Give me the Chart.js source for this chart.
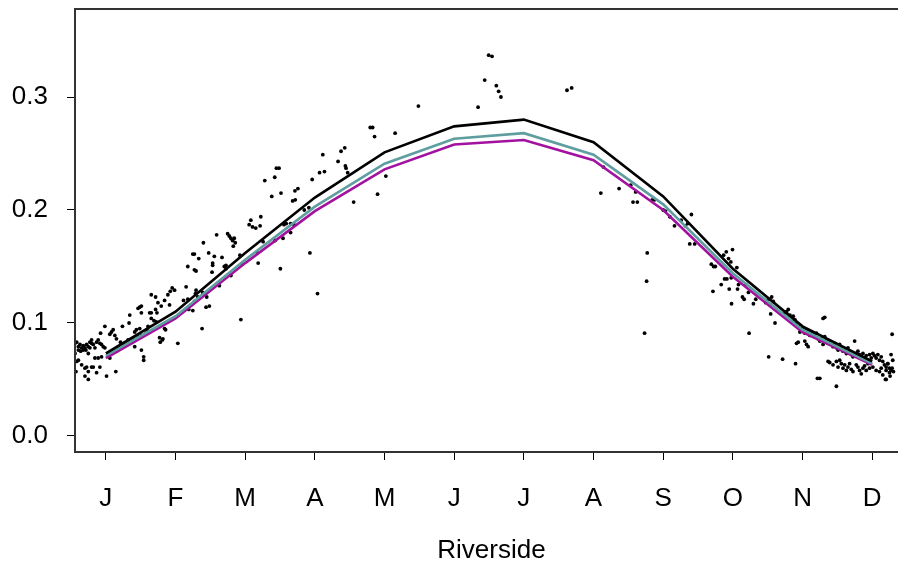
<!DOCTYPE html>
<html><head><meta charset="utf-8">
<script src="https://cdn.jsdelivr.net/npm/chart.js@4/dist/chart.umd.min.js"></script>
<style>html,body{margin:0;padding:0;overflow:hidden;background:#fff}</style>
</head><body>
<canvas id="c" width="912" height="566" style="width:912px;height:566px;display:block"></canvas>
<script>
const monthLabels = ['J','F','M','A','M','J','J','A','S','O','N','D'];
const monthPositions = [0,1,2,3,4,5,6,7,8,9,10,11];
const yTickValues = [0.0, 0.1, 0.2, 0.3];
const xTitle = 'Riverside';

const fitBlack   = [0.073, 0.110, 0.162, 0.211, 0.251, 0.274, 0.280, 0.260, 0.212, 0.148, 0.097, 0.066];
const fitTeal    = [0.071, 0.106, 0.156, 0.203, 0.241, 0.263, 0.268, 0.249, 0.205, 0.144, 0.094, 0.064];
const fitMagenta = [0.069, 0.104, 0.153, 0.199, 0.236, 0.258, 0.262, 0.244, 0.200, 0.141, 0.092, 0.063];

// observed points: [month position, value]
const observations = [
[1.248,0.161],[1.271,0.161],[1.333,0.157],[1.176,0.150],[1.271,0.147],[1.295,0.146],[1.938,0.103],[1.438,0.114],[1.486,0.115],[1.381,0.095],[1.033,0.082],
[0.652,0.125],[0.714,0.123],[0.748,0.118],[0.843,0.120],[0.890,0.125],[0.924,0.128],[0.952,0.131],[0.986,0.129],[0.914,0.116],[0.795,0.115],[1.152,0.132],[1.176,0.121],[1.271,0.119],[1.295,0.129],[1.286,0.126],[1.319,0.123],[1.343,0.122],[1.190,0.112],[1.248,0.111],[1.114,0.120],
[0.486,0.114],[0.510,0.115],[0.462,0.113],[0.510,0.109],[0.629,0.109],[0.652,0.109],[0.714,0.112],[0.733,0.109],[0.652,0.104],[0.690,0.102],[0.724,0.101],[0.605,0.097],[0.590,0.094],[0.629,0.092],[0.571,0.091],[0.486,0.095],[0.438,0.094],[0.414,0.092],[0.343,0.107],[0.333,0.100],[0.238,0.097],[0.105,0.094],[0.081,0.092],[0.129,0.089],[0.057,0.090],[-0.014,0.097],[-0.076,0.091],
[0.152,0.086],[0.210,0.083],[0.248,0.081],[0.176,0.079],[0.286,0.082],[0.319,0.085],[0.343,0.083],[0.367,0.086],[0.400,0.087],[0.462,0.088],[0.510,0.089],[0.414,0.079],[0.510,0.076],[0.543,0.070],[0.543,0.067],[0.771,0.087],[0.810,0.085],[0.819,0.086],[0.857,0.094],[0.890,0.101],[0.843,0.095],[0.781,0.083],
[-0.443,0.082],[-0.419,0.083],[-0.395,0.079],[-0.371,0.081],[-0.348,0.078],[-0.324,0.080],[-0.300,0.078],[-0.276,0.081],[-0.252,0.079],[-0.229,0.083],[-0.205,0.082],[-0.181,0.081],[-0.157,0.078],[-0.133,0.083],[-0.110,0.085],[-0.086,0.082],[-0.062,0.081],[-0.038,0.079],[-0.014,0.078],
[-0.395,0.076],[-0.362,0.075],[-0.324,0.076],[-0.286,0.076],[-0.252,0.073],[-0.443,0.073],[-0.419,0.066],[-0.395,0.067],[-0.348,0.063],[-0.300,0.060],[-0.276,0.061],[-0.252,0.057],[-0.205,0.061],[-0.181,0.061],[-0.086,0.061],[-0.157,0.069],[-0.110,0.069],[-0.062,0.070],[-0.429,0.057],[-0.300,0.053],[-0.252,0.050],[-0.133,0.056],[0.010,0.053],[0.143,0.057],
[0.033,0.071],[0.057,0.069],[0.081,0.073],[0.105,0.075],[0.129,0.076],[0.152,0.075],[-0.205,0.085],[-0.229,0.078],
[3.795,0.273],[3.829,0.273],[3.857,0.265],[4.152,0.268],[3.114,0.249],[3.376,0.252],[3.429,0.255],[3.333,0.243],[3.438,0.239],[3.448,0.237],[3.471,0.233],[3.067,0.233],[3.138,0.234],[2.962,0.227],[2.448,0.237],[2.486,0.237],[2.424,0.229],[2.281,0.226],[2.381,0.212],[2.514,0.215],[2.714,0.217],[2.757,0.219],[2.681,0.208],[2.719,0.209],[2.848,0.200],[2.914,0.202],
[2.081,0.191],[2.057,0.187],[2.105,0.185],[2.152,0.184],[2.214,0.186],[2.224,0.194],[2.557,0.187],[2.590,0.188],[2.652,0.188],[2.700,0.187],[2.652,0.180],[2.543,0.175],[2.429,0.173],[2.257,0.172],[2.176,0.162],[2.186,0.153],[1.924,0.160],[1.952,0.152],
[1.795,0.175],[1.819,0.173],[1.843,0.175],[1.829,0.168],[1.857,0.171],[1.748,0.179],[1.771,0.177],[1.590,0.178],[1.400,0.171],[1.476,0.162],[1.557,0.159],[1.667,0.158],[1.533,0.153],[1.533,0.151],[1.524,0.145],[1.700,0.150],[1.724,0.151],[1.724,0.148],[1.795,0.142],[1.629,0.133],[1.390,0.127],[1.448,0.123],[2.929,0.162],[2.505,0.148],[3.038,0.126],[3.557,0.207],[3.900,0.214],[4.019,0.230],
[5.495,0.337],[5.543,0.336],[5.438,0.315],[5.605,0.310],[5.638,0.305],[5.671,0.300],[5.343,0.291],[4.486,0.292],[6.619,0.306],[6.686,0.308],
[7.143,0.238],[7.105,0.215],[7.367,0.219],[7.533,0.222],[7.605,0.216],[7.567,0.207],[7.629,0.207],[7.843,0.209],[7.876,0.209],[8.000,0.200],[8.033,0.199],[8.095,0.194],[8.162,0.186],[8.257,0.191],[8.319,0.186],[8.352,0.188],[8.405,0.196],[8.381,0.170],[8.452,0.170],[7.771,0.162],[7.762,0.137],[7.733,0.091],
[8.691,0.152],[8.724,0.150],[8.748,0.150],[8.867,0.160],[8.905,0.163],[8.995,0.165],[8.938,0.157],[8.971,0.154],[9.057,0.149],[8.881,0.139],[8.914,0.139],[8.833,0.134],[8.976,0.140],[9.081,0.134],[9.186,0.134],[8.714,0.128],[8.948,0.130],[9.067,0.130],[9.138,0.123],[9.162,0.121],[9.224,0.127],[9.329,0.121],[8.981,0.117],[9.295,0.117],[9.471,0.118],[9.510,0.121],[9.557,0.123],[9.581,0.119],[9.533,0.116],[9.543,0.108],[9.605,0.100],[9.233,0.091],
[9.748,0.109],[9.771,0.110],[9.795,0.112],[9.819,0.107],[9.867,0.106],[9.890,0.103],[9.843,0.101],[9.914,0.100],[9.938,0.097],[9.986,0.095],[9.962,0.092],[10.010,0.094],[10.033,0.091],[10.057,0.094],[10.081,0.092],[10.105,0.089],[10.129,0.092],[10.152,0.090],[10.176,0.088],[10.200,0.091],[10.224,0.086],[10.248,0.084],[10.271,0.086],[10.295,0.081],[10.319,0.088],[10.343,0.085],[10.367,0.082],[10.390,0.084],[10.414,0.081],[10.438,0.079],[10.462,0.082],[10.486,0.078],[10.510,0.076],[10.533,0.081],[10.557,0.078],[10.581,0.075],[10.605,0.076],[10.629,0.073],[10.652,0.078],[10.676,0.075],[10.700,0.072],[10.724,0.070],[10.748,0.084],[10.771,0.073],[10.795,0.075],[10.819,0.072],[10.843,0.070],[10.867,0.073],[10.890,0.069],[10.914,0.071],[10.938,0.067],[10.962,0.072],[10.986,0.069],[11.010,0.073],[11.033,0.071],[11.057,0.069],[11.081,0.072],[11.105,0.067],[11.129,0.070],[11.152,0.066],[11.176,0.063],[11.200,0.061],[11.224,0.064],[11.248,0.060],[11.271,0.058],[11.295,0.067],[11.286,0.090],
[9.914,0.082],[9.938,0.083],[10.057,0.081],[10.081,0.079],[10.033,0.084],[10.367,0.066],[10.390,0.065],[10.438,0.063],[10.486,0.066],[10.510,0.061],[10.533,0.067],[10.557,0.064],[10.581,0.060],[10.605,0.063],[10.629,0.058],[10.652,0.061],[10.676,0.064],[10.700,0.059],[10.724,0.057],[10.771,0.063],[10.795,0.061],[10.819,0.058],[10.843,0.055],[10.867,0.060],[10.890,0.062],[10.914,0.058],[10.938,0.064],[10.962,0.060],[11.010,0.061],[11.057,0.058],[11.105,0.057],[11.129,0.060],[11.152,0.054],[11.200,0.050],[11.248,0.056],
[10.295,0.104],[10.319,0.105],[9.514,0.070],[9.714,0.068],[9.900,0.064],[10.214,0.051],[10.248,0.051],[10.486,0.044],
[11.271,0.072],[11.224,0.064],[11.200,0.058],[11.286,0.060],[11.305,0.057],[11.190,0.050],[11.257,0.053]
];

const xLimits = [-0.443, 11.514];
const yLimits = [-0.0142, 0.3779];

const FONT = {family: "'Liberation Sans', Arial, sans-serif", size: 26};

const boxPlugin = {
  id: 'box',
  afterDatasetsDraw(chart) {
    const {ctx, chartArea: a} = chart;
    ctx.save();
    ctx.strokeStyle = '#333';
    ctx.lineWidth = 2;
    ctx.strokeRect(a.left, a.top, a.right - a.left, a.bottom - a.top);
    ctx.restore();
  }
};

const lineDs = (vals, color, order) => ({
  data: monthPositions.map((m, i) => ({x: m, y: vals[i]})),
  showLine: true, borderColor: color, borderWidth: 2.6, pointRadius: 0,
  tension: 0, fill: false, order: order
});

new Chart(document.getElementById('c').getContext('2d'), {
  type: 'scatter',
  data: {
    datasets: [
      {data: observations.map(([x, y]) => ({x, y})), showLine: false, pointRadius: 1.9,
       pointBackgroundColor: '#000', pointBorderWidth: 0, pointBorderColor: '#000', order: 4},
      lineDs(fitMagenta, '#a3119f', 3),
      lineDs(fitTeal, '#5f9ea0', 2),
      lineDs(fitBlack, '#000000', 1)
    ]
  },
  options: {
    responsive: false, animation: false, devicePixelRatio: 1,
    layout: {padding: {top: 9, left: 0, right: 0, bottom: 0}},
    plugins: {legend: {display: false}, tooltip: {enabled: false}},
    scales: {
      x: {
        type: 'linear', min: xLimits[0], max: xLimits[1],
        afterBuildTicks: s => { s.ticks = monthPositions.map(v => ({value: v})); },
        afterFit: s => { s.height = 114; s.paddingLeft = 0; s.paddingRight = 0; },
        grid: {display: true, drawOnChartArea: false, drawTicks: true, tickLength: 8, tickColor: '#000', tickWidth: 1},
        border: {display: true, color: '#000', width: 2},
        ticks: {autoSkip: false, maxRotation: 0, minRotation: 0, padding: 23, color: '#000', font: FONT,
                callback: (v, i) => monthLabels[i]},
        title: {display: true, text: xTitle, color: '#000', font: FONT, padding: {top: 0, bottom: 0}}
      },
      y: {
        type: 'linear', min: yLimits[0], max: yLimits[1],
        afterBuildTicks: s => { s.ticks = yTickValues.map(v => ({value: v})); },
        afterFit: s => { s.width = 75; s.paddingTop = 0; s.paddingBottom = 0; },
        grid: {display: true, drawOnChartArea: false, drawTicks: true, tickLength: 8, tickColor: '#000', tickWidth: 1},
        border: {display: true, color: '#000', width: 2},
        ticks: {padding: 19, color: '#000', font: FONT, callback: v => v.toFixed(1)}
      }
    }
  },
  plugins: [boxPlugin]
});
</script>
</body></html>
